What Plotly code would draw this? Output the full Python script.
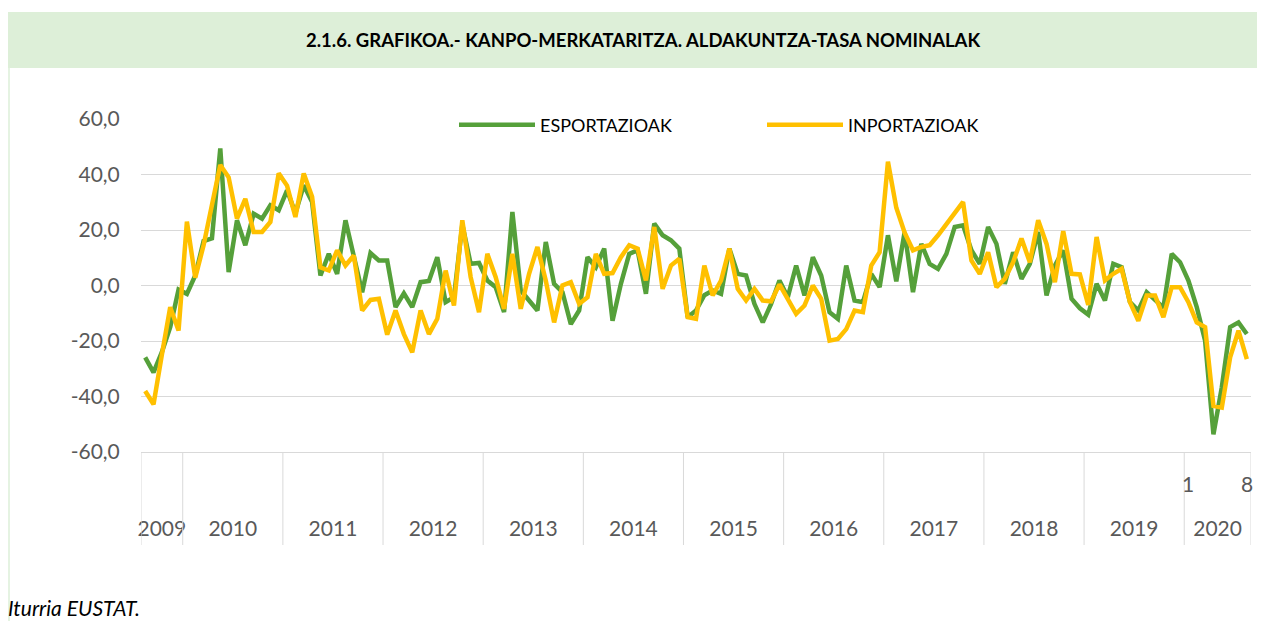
import plotly.graph_objects as go

# ---------------- data ----------------
YEARS = ["2009", "2010", "2011", "2012", "2013", "2014", "2015", "2016",
         "2017", "2018", "2019", "2020"]
MONTHS_IN_YEAR = [5, 12, 12, 12, 12, 12, 12, 12, 12, 12, 12, 8]
FIRST_MONTH = 8  # first month of the first year (August 2009)

ESPORTAZIOAK = [
    -25.9, -31.3, -24.0, -15.0, -1.5,
    -3.0, 3.6, 16.0, 17.0, 49.4, 4.8, 23.5, 14.5, 25.9, 24.1, 28.9, 27.1,
    34.3, 26.0, 36.1, 30.1, 3.6, 11.4, 4.2, 23.5, 10.2, -2.4, 11.7, 9.0,
    9.0, -7.8, -2.8, -7.8, 1.2, 1.6, 10.2, -6.0, -4.2, 22.0, 7.8, 8.1,
    1.8, -0.6, -9.6, 26.5, -1.8, -5.4, -9.0, 15.7, 0.6, -2.4, -13.9, -9.0,
    10.2, 6.6, 13.3, -12.7, 0.6, 11.4, 12.7, -3.0, 22.3, 18.1, 16.3, 13.3,
    -11.4, -9.0, -3.5, -1.8, -3.0, 13.3, 4.2, 3.6, -6.6, -13.3, -6.6, 1.8,
    -4.2, 7.2, -3.6, 10.2, 3.6, -9.6, -12.0, 7.2, -5.4, -6.0, 4.2, -0.6,
    18.1, 1.5, 19.3, -2.4, 15.0, 7.8, 6.0, 11.4, 21.1, 21.7, 12.7, 7.8,
    21.1, 15.0, 0.6, 12.0, 2.4, 7.8, 19.3, -3.6, 7.2, 12.7, -4.8, -8.2,
    -10.5, 0.6, -5.4, 7.8, 6.6, -6.0, -9.0, -2.4, -5.4, -8.0, 11.4, 8.4,
    1.8, -7.8, -19.9, -53.6, -36.7, -15.0, -13.3, -17.5,
]

INPORTAZIOAK = [
    -38.0, -42.8, -25.0, -7.8, -16.2,
    23.0, 2.8, 14.5, 29.0, 43.4, 39.0, 24.1, 31.2, 19.3, 19.3, 22.9, 40.4,
    36.0, 24.7, 40.4, 32.0, 6.5, 5.4, 12.7, 7.2, 10.8, -9.0, -5.2, -4.8,
    -17.7, -9.0, -17.5, -24.1, -9.0, -17.5, -12.0, 5.4, -7.2, 23.5, 3.0, -9.6,
    11.4, 3.0, -8.4, 11.4, -8.4, 4.2, 13.9, 1.8, -13.3, 0.0, 1.2, -6.6,
    -4.2, 11.4, 4.2, 4.5, 10.2, 14.5, 13.3, 1.8, 21.1, -1.2, 7.2, 9.6,
    -11.4, -12.0, 7.2, -3.6, 1.8, 13.3, -1.2, -5.4, -1.2, -5.4, -5.7, 0.4,
    -4.8, -10.2, -7.2, 0.0, -4.8, -19.9, -19.3, -15.7, -9.0, -9.6, 7.2, 12.0,
    44.6, 28.0, 19.0, 12.7, 13.9, 14.5, 18.1, 22.3, 25.9, 30.1, 9.0, 4.2,
    12.0, -0.6, 2.4, 8.4, 16.9, 8.4, 23.5, 15.0, 1.2, 19.6, 4.2, 4.0,
    -7.0, 17.5, 1.8, 4.2, 6.0, -6.0, -12.7, -3.6, -3.6, -11.4, -0.6, -0.6,
    -6.0, -13.3, -15.0, -43.4, -44.0, -25.9, -16.3, -26.5,
]

Y_TICKS = [-60, -40, -20, 0, 20, 40, 60]
Y_TICK_TEXT = ["-60,0", "-40,0", "-20,0", "0,0", "20,0", "40,0", "60,0"]

TITLE = "2.1.6. GRAFIKOA.- KANPO-MERKATARITZA. ALDAKUNTZA-TASA NOMINALAK"
SOURCE = "Iturria EUSTAT."
SERIES_NAMES = ["ESPORTAZIOAK", "INPORTAZIOAK"]
COLORS = ["#55A03A", "#FFC000"]

# ---------------- derived category structure ----------------
x_idx = list(range(sum(MONTHS_IN_YEAR)))
month_num = []
year_of = []
for k, (y, n) in enumerate(zip(YEARS, MONTHS_IN_YEAR)):
    start = FIRST_MONTH if k == 0 else 1
    for m in range(start, start + n):
        month_num.append(m)
        year_of.append(y)

bounds = [-0.5]
for n in MONTHS_IN_YEAR:
    bounds.append(bounds[-1] + n)
year_centers = [(bounds[k] + bounds[k + 1]) / 2 for k in range(len(YEARS))]

# month labels only for the last year's first and last month
last_year_idx = [i for i in x_idx if year_of[i] == YEARS[-1]]
month_tick_vals = [last_year_idx[0], last_year_idx[-1]]
month_tick_text = [str(month_num[i]) for i in month_tick_vals]

# ---------------- figure geometry ----------------
OFF = 8                      # page body margin
WIN_W, WIN_H = 1265, 621
W, H = WIN_W - OFF, WIN_H - OFF
PL, PR, PT, PB = 141, 1251, 119, 452   # plot area in window pixels
ML, MR, MT, MB = PL - OFF, WIN_W - PR, PT - OFF, WIN_H - PB
PW, PH = W - ML - MR, H - MT - MB


def px_x(px):
    return (px - PL) / PW


def px_y(py):
    return (PB - py) / PH


FONT = "Lato, 'Open Sans', sans-serif"
GRID = "#D9D9D9"
LABEL = "#595959"

fig = go.Figure()
for name, vals, col in zip(SERIES_NAMES, [ESPORTAZIOAK, INPORTAZIOAK], COLORS):
    fig.add_trace(go.Scatter(
        x=x_idx, y=vals, mode="lines", name=name,
        line=dict(color=col, width=4.5, shape="linear"),
        hoverinfo="x+y",
    ))

shapes = []
# title band
shapes.append(dict(type="rect", xref="paper", yref="paper",
                   x0=px_x(4), x1=px_x(WIN_W + 5), y0=px_y(68), y1=px_y(12),
                   fillcolor="#DDEFD8", line=dict(width=0), layer="below"))
# left frame line
shapes.append(dict(type="line", xref="paper", yref="paper",
                   x0=px_x(9), x1=px_x(9), y0=px_y(WIN_H + 5), y1=px_y(12),
                   line=dict(color="#DDEFD8", width=1.5)))
# category separators below the axis
for b in bounds:
    shapes.append(dict(type="line", xref="x", yref="paper",
                       x0=b, x1=b, y0=0, y1=px_y(545),
                       line=dict(color=GRID, width=1)))

annotations = [
    dict(text="<b>" + TITLE + "</b>", xref="paper", yref="paper",
         x=px_x(643), y=px_y(40), showarrow=False, xanchor="center",
         yanchor="middle", font=dict(family=FONT, size=18.5, color="#000000")),
    dict(text="<i>" + SOURCE + "</i>", xref="paper", yref="paper",
         x=px_x(6), y=px_y(607), showarrow=False, xanchor="left",
         yanchor="middle", font=dict(family=FONT, size=21, color="#000000")),
]
for v, t in zip(month_tick_vals, month_tick_text):
    annotations.append(dict(text=t, xref="x", yref="paper", x=v, y=px_y(483),
                            showarrow=False, xanchor="center", yanchor="middle",
                            font=dict(family=FONT, size=21, color=LABEL)))

fig.update_layout(
    width=W, height=H,
    margin=dict(l=ML, r=MR, t=MT, b=MB, pad=0),
    paper_bgcolor="white", plot_bgcolor="white",
    shapes=shapes, annotations=annotations,
    showlegend=True,
    legend=dict(orientation="h", x=px_x(454), y=px_y(125),
                xanchor="left", yanchor="middle",
                bgcolor="white", borderwidth=0,
                font=dict(family=FONT, size=18, color="#000000"),
                itemwidth=76, entrywidth=217, entrywidthmode="pixels",
                tracegroupgap=0),
    xaxis=dict(range=[-0.5, bounds[-1]], tickmode="array",
               tickvals=year_centers, ticktext=YEARS,
               ticks="outside", ticklen=58, tickcolor="rgba(0,0,0,0)",
               tickfont=dict(family=FONT, size=21, color=LABEL),
               showgrid=False, zeroline=False, showline=True,
               linecolor=GRID, linewidth=1, fixedrange=True),
    yaxis=dict(range=[-60, 60], tickmode="array", tickvals=Y_TICKS,
               ticktext=Y_TICK_TEXT, ticks="outside", ticklen=16,
               tickcolor="rgba(0,0,0,0)",
               tickfont=dict(family=FONT, size=21, color=LABEL),
               showgrid=True, gridcolor=GRID, gridwidth=1,
               zeroline=False, showline=False, fixedrange=True),
)

fig.write_html("out.html", include_plotlyjs=True, config={"displayModeBar": False})
